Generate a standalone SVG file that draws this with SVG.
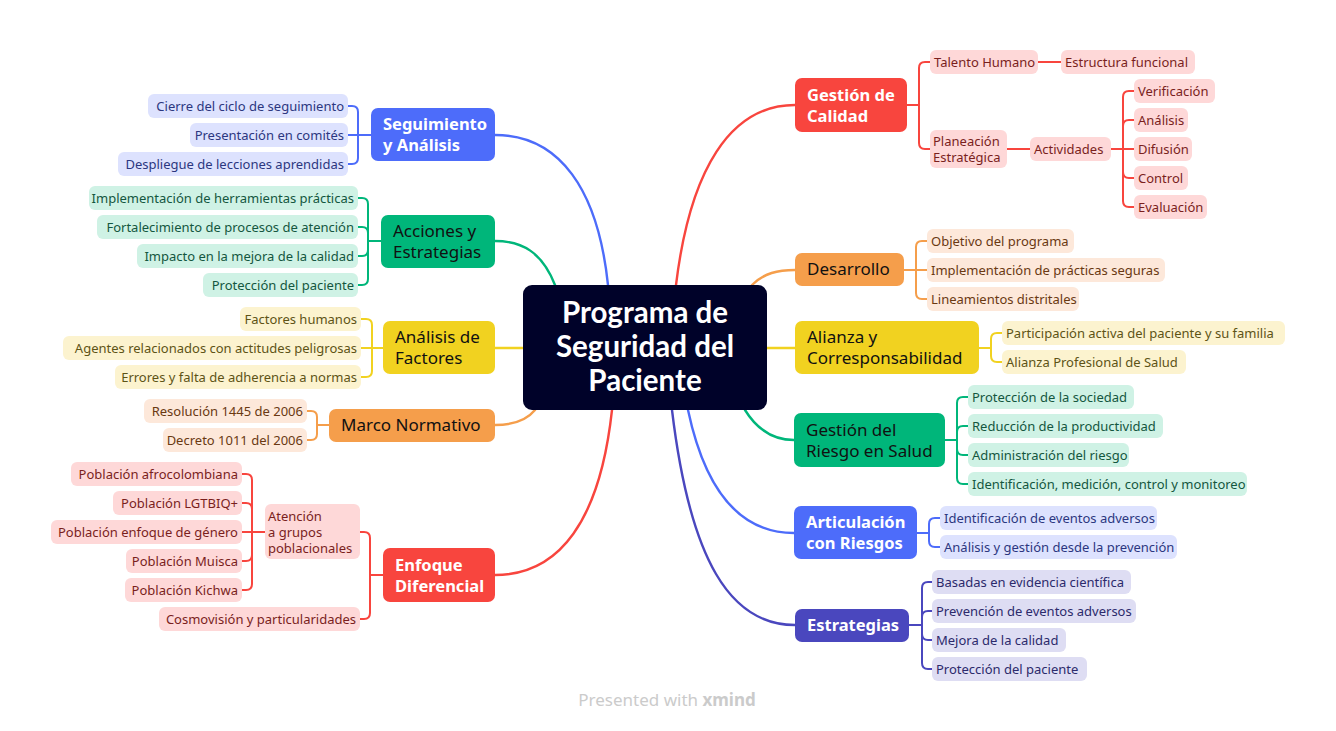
<svg xmlns="http://www.w3.org/2000/svg" width="1336" height="731" viewBox="0 0 1336 731">
<style>
text{font-family:"Noto Sans","Open Sans","Liberation Sans",sans-serif}
.sub{font-size:13px}
.main{font-size:16.5px}
.mw{fill:#fff;font-weight:700}
.mb{fill:#111;font-size:17px}
.ctr{font-family:Lato,"Noto Sans",sans-serif;font-size:29.5px;font-weight:700;fill:#fff;text-anchor:middle}
.l{text-anchor:end}
.conn path{fill:none;stroke-linecap:round;stroke-linejoin:round}
.cb{stroke:#4D6CFA}.cg{stroke:#00B67A}.cy{stroke:#F1D220}.co{stroke:#F59E4B}.cr{stroke:#F8453E}.ci{stroke:#4A47BE}
.main-c{stroke-width:2.4}
.sub-c{stroke-width:2}
.fb{fill:#4D6CFA}.fg{fill:#00B67A}.fy{fill:#F1D220}.fo{fill:#F59E4B}.fr{fill:#F8453E}.fi{fill:#4A47BE}
.pb{fill:#DDE2FE}.pg{fill:#CFF2E5}.py{fill:#FCF3CF}.po{fill:#FDE8DA}.pr{fill:#FED8D8}.pi{fill:#DEDDF3}
.tb{fill:#2C3780}.tg{fill:#14573F}.ty{fill:#5E5316}.to{fill:#6A3912}.tr{fill:#7A1F1D}.ti{fill:#2C2A6C}
</style>

<g id="connectors" class="conn">
<g class="main-c">
<path class="cb" d="M608,285 C598,190 560,135 495,135"/>
<path class="cg" d="M555,285 C542,252 522,241 495,241"/>
<path class="cy" d="M524,348 H495"/>
<path class="co" d="M535,410 C526,421 512,425 495,425"/>
<path class="cr" d="M612,410 C600,520 560,575 495,575"/>
<path class="cr" d="M676,285 C690,170 730,105 795,105"/>
<path class="co" d="M752,285 C764,273 778,270 795,270"/>
<path class="cy" d="M767,348 H795"/>
<path class="cg" d="M745,410 C758,431 774,440 794,440"/>
<path class="cb" d="M688,410 C705,490 740,533 794,533"/>
<path class="ci" d="M672,410 C690,560 730,625 795,625"/>
</g>
<g class="sub-c">
<g class="cb">
<path d="M371,135 H358 V112 Q358,106 352,106 H348"/>
<path d="M371,135 H348"/>
<path d="M371,135 H358 V158 Q358,164 352,164 H348"/>
</g>
<g class="cg">
<path d="M381,241 H368 V204 Q368,198 362,198 H358"/>
<path d="M381,241 H368 V233 Q368,227 362,227 H358"/>
<path d="M381,241 H368 V250 Q368,256 362,256 H358"/>
<path d="M381,241 H368 V279 Q368,285 362,285 H358"/>
</g>
<g class="cy">
<path d="M383,348 H372 V325 Q372,319 366,319 H361"/>
<path d="M383,348 H361"/>
<path d="M383,348 H372 V371 Q372,377 366,377 H361"/>
</g>
<g class="co">
<path d="M329,425 H317 V417 Q317,411 311,411 H307"/>
<path d="M329,425 H317 V434 Q317,440 311,440 H307"/>
</g>
<g class="cr">
<path d="M383,575 H370 V538 Q370,532 364,532 H360"/>
<path d="M383,575 H370 V613 Q370,619 364,619 H360"/>
<path d="M265,532 H252 V480 Q252,474 246,474 H242"/>
<path d="M265,532 H252 V509 Q252,503 246,503 H242"/>
<path d="M265,532 H242"/>
<path d="M265,532 H252 V555 Q252,561 246,561 H242"/>
<path d="M265,532 H252 V584 Q252,590 246,590 H242"/>
<path d="M907,105 H919 V68 Q919,62 925,62 H930"/>
<path d="M907,105 H919 V143 Q919,149 925,149 H930"/>
<path d="M1038,62 H1061"/>
<path d="M1007,149 H1030"/>
<path d="M1111,149 H1123 V97 Q1123,91 1129,91 H1134"/>
<path d="M1111,149 H1123 V126 Q1123,120 1129,120 H1134"/>
<path d="M1111,149 H1134"/>
<path d="M1111,149 H1123 V172 Q1123,178 1129,178 H1134"/>
<path d="M1111,149 H1123 V201 Q1123,207 1129,207 H1134"/>
</g>
<g class="co">
<path d="M904,270 H916 V247 Q916,241 922,241 H927"/>
<path d="M904,270 H927"/>
<path d="M904,270 H916 V293 Q916,299 922,299 H927"/>
</g>
<g class="cy">
<path d="M979,348 H991 V339 Q991,333 997,333 H1002"/>
<path d="M979,348 H991 V356 Q991,362 997,362 H1002"/>
</g>
<g class="cg">
<path d="M945,440 H957 V403 Q957,397 963,397 H968"/>
<path d="M945,440 H957 V432 Q957,426 963,426 H968"/>
<path d="M945,440 H957 V449 Q957,455 963,455 H968"/>
<path d="M945,440 H957 V478 Q957,484 963,484 H968"/>
</g>
<g class="cb">
<path d="M917,533 H929 V524 Q929,518 935,518 H940"/>
<path d="M917,533 H929 V541 Q929,547 935,547 H940"/>
</g>
<g class="ci">
<path d="M909,625 H922 V588 Q922,582 928,582 H932"/>
<path d="M909,625 H922 V617 Q922,611 928,611 H932"/>
<path d="M909,625 H922 V634 Q922,640 928,640 H932"/>
<path d="M909,625 H922 V663 Q922,669 928,669 H932"/>
</g>
</g>
</g>

<g id="center">
<rect x="523" y="285" width="244" height="125" rx="9" fill="#000229"/>
<text class="ctr" x="645" y="323">Programa de</text>
<text class="ctr" x="645" y="357">Seguridad del</text>
<text class="ctr" x="645" y="391">Paciente</text>
</g>

<g id="seguimiento">
<rect class="fb" x="371" y="108" width="124" height="53" rx="7"/>
<text class="main mw" x="383" y="130">Seguimiento</text>
<text class="main mw" x="383" y="151">y Análisis</text>
</g>
<g id="seg-1"><rect class="pb" x="148" y="94" width="200" height="24" rx="6"/><text class="sub tb l" x="344" y="110.5">Cierre del ciclo de seguimiento</text></g>
<g id="seg-2"><rect class="pb" x="190" y="123" width="158" height="24" rx="6"/><text class="sub tb l" x="344" y="139.5">Presentación en comités</text></g>
<g id="seg-3"><rect class="pb" x="118" y="152" width="230" height="24" rx="6"/><text class="sub tb l" x="344" y="168.5">Despliegue de lecciones aprendidas</text></g>

<g id="acciones">
<rect class="fg" x="381" y="215" width="114" height="53" rx="7"/>
<text class="main mb" x="393" y="237">Acciones y</text>
<text class="main mb" x="393" y="258">Estrategias</text>
</g>
<g id="acc-1"><rect class="pg" x="89" y="186" width="269" height="24" rx="6"/><text class="sub tg l" x="354" y="202.5">Implementación de herramientas prácticas</text></g>
<g id="acc-2"><rect class="pg" x="97" y="215" width="261" height="24" rx="6"/><text class="sub tg l" x="354" y="231.5">Fortalecimiento de procesos de atención</text></g>
<g id="acc-3"><rect class="pg" x="137" y="244" width="221" height="24" rx="6"/><text class="sub tg l" x="354" y="260.5">Impacto en la mejora de la calidad</text></g>
<g id="acc-4"><rect class="pg" x="203" y="273" width="155" height="24" rx="6"/><text class="sub tg l" x="354" y="289.5">Protección del paciente</text></g>

<g id="factores">
<rect class="fy" x="383" y="321" width="112" height="53" rx="7"/>
<text class="main mb" x="395" y="343">Análisis de</text>
<text class="main mb" x="395" y="364">Factores</text>
</g>
<g id="fac-1"><rect class="py" x="240" y="307" width="121" height="24" rx="6"/><text class="sub ty l" x="357" y="323.5">Factores humanos</text></g>
<g id="fac-2"><rect class="py" x="63" y="336" width="298" height="24" rx="6"/><text class="sub ty l" x="357" y="352.5">Agentes relacionados con actitudes peligrosas</text></g>
<g id="fac-3"><rect class="py" x="115" y="365" width="246" height="24" rx="6"/><text class="sub ty l" x="357" y="381.5">Errores y falta de adherencia a normas</text></g>

<g id="marco">
<rect class="fo" x="329" y="409" width="166" height="33" rx="7"/>
<text class="main mb" x="341" y="431">Marco Normativo</text>
</g>
<g id="mar-1"><rect class="po" x="144" y="399" width="163" height="24" rx="6"/><text class="sub to l" x="303" y="415.5">Resolución 1445 de 2006</text></g>
<g id="mar-2"><rect class="po" x="163" y="428" width="144" height="24" rx="6"/><text class="sub to l" x="303" y="444.5">Decreto 1011 del 2006</text></g>

<g id="enfoque">
<rect class="fr" x="383" y="548" width="112" height="54" rx="7"/>
<text class="main mw" x="395" y="571">Enfoque</text>
<text class="main mw" x="395" y="592">Diferencial</text>
</g>
<g id="enf-atencion"><rect class="pr" x="265" y="504" width="95" height="55" rx="6"/>
<text class="sub tr" x="268" y="521">Atención</text><text class="sub tr" x="268" y="537">a grupos</text><text class="sub tr" x="268" y="553">poblacionales</text></g>
<g id="enf-cosmo"><rect class="pr" x="159" y="607" width="201" height="24" rx="6"/><text class="sub tr l" x="356" y="623.5">Cosmovisión y particularidades</text></g>
<g id="at-1"><rect class="pr" x="71" y="462" width="171" height="24" rx="6"/><text class="sub tr l" x="238" y="478.5">Población afrocolombiana</text></g>
<g id="at-2"><rect class="pr" x="113" y="491" width="129" height="24" rx="6"/><text class="sub tr l" x="238" y="507.5">Población LGTBIQ+</text></g>
<g id="at-3"><rect class="pr" x="51" y="520" width="191" height="24" rx="6"/><text class="sub tr l" x="238" y="536.5">Población enfoque de género</text></g>
<g id="at-4"><rect class="pr" x="126" y="549" width="116" height="24" rx="6"/><text class="sub tr l" x="238" y="565.5">Población Muisca</text></g>
<g id="at-5"><rect class="pr" x="125" y="578" width="117" height="24" rx="6"/><text class="sub tr l" x="238" y="594.5">Población Kichwa</text></g>

<g id="calidad">
<rect class="fr" x="795" y="78" width="112" height="54" rx="7"/>
<text class="main mw" x="807" y="101">Gestión de</text>
<text class="main mw" x="807" y="122">Calidad</text>
</g>
<g id="cal-talento"><rect class="pr" x="930" y="50" width="108" height="24" rx="6"/><text class="sub tr" x="934" y="66.5">Talento Humano</text></g>
<g id="cal-estructura"><rect class="pr" x="1061" y="50" width="134" height="24" rx="6"/><text class="sub tr" x="1065" y="66.5">Estructura funcional</text></g>
<g id="cal-planeacion"><rect class="pr" x="930" y="130" width="77" height="38" rx="6"/><text class="sub tr" x="933" y="145.5">Planeación</text><text class="sub tr" x="933" y="161.5">Estratégica</text></g>
<g id="cal-actividades"><rect class="pr" x="1030" y="137" width="81" height="24" rx="6"/><text class="sub tr" x="1034" y="153.5">Actividades</text></g>
<g id="act-1"><rect class="pr" x="1134" y="79" width="81" height="24" rx="6"/><text class="sub tr" x="1138" y="95.5">Verificación</text></g>
<g id="act-2"><rect class="pr" x="1134" y="108" width="54" height="24" rx="6"/><text class="sub tr" x="1138" y="124.5">Análisis</text></g>
<g id="act-3"><rect class="pr" x="1134" y="137" width="58" height="24" rx="6"/><text class="sub tr" x="1138" y="153.5">Difusión</text></g>
<g id="act-4"><rect class="pr" x="1134" y="166" width="54" height="24" rx="6"/><text class="sub tr" x="1138" y="182.5">Control</text></g>
<g id="act-5"><rect class="pr" x="1134" y="195" width="73" height="24" rx="6"/><text class="sub tr" x="1138" y="211.5">Evaluación</text></g>

<g id="desarrollo">
<rect class="fo" x="795" y="253" width="109" height="33" rx="7"/>
<text class="main mb" x="807" y="275">Desarrollo</text>
</g>
<g id="des-1"><rect class="po" x="927" y="229" width="147" height="24" rx="6"/><text class="sub to" x="931" y="245.5">Objetivo del programa</text></g>
<g id="des-2"><rect class="po" x="927" y="258" width="238" height="24" rx="6"/><text class="sub to" x="931" y="274.5">Implementación de prácticas seguras</text></g>
<g id="des-3"><rect class="po" x="927" y="287" width="152" height="24" rx="6"/><text class="sub to" x="931" y="303.5">Lineamientos distritales</text></g>

<g id="alianza">
<rect class="fy" x="795" y="321" width="184" height="53" rx="7"/>
<text class="main mb" x="807" y="343">Alianza y</text>
<text class="main mb" x="807" y="364">Corresponsabilidad</text>
</g>
<g id="ali-1"><rect class="py" x="1002" y="321" width="283" height="24" rx="6"/><text class="sub ty" x="1006" y="337.5">Participación activa del paciente y su familia</text></g>
<g id="ali-2"><rect class="py" x="1002" y="350" width="184" height="24" rx="6"/><text class="sub ty" x="1006" y="366.5">Alianza Profesional de Salud</text></g>

<g id="riesgo">
<rect class="fg" x="794" y="413" width="151" height="54" rx="7"/>
<text class="main mb" x="806" y="436">Gestión del</text>
<text class="main mb" x="806" y="457">Riesgo en Salud</text>
</g>
<g id="rie-1"><rect class="pg" x="968" y="385" width="166" height="24" rx="6"/><text class="sub tg" x="972" y="401.5">Protección de la sociedad</text></g>
<g id="rie-2"><rect class="pg" x="968" y="414" width="195" height="24" rx="6"/><text class="sub tg" x="972" y="430.5">Reducción de la productividad</text></g>
<g id="rie-3"><rect class="pg" x="968" y="443" width="161" height="24" rx="6"/><text class="sub tg" x="972" y="459.5">Administración del riesgo</text></g>
<g id="rie-4"><rect class="pg" x="968" y="472" width="279" height="24" rx="6"/><text class="sub tg" x="972" y="488.5">Identificación, medición, control y monitoreo</text></g>

<g id="articulacion">
<rect class="fb" x="794" y="506" width="123" height="53" rx="7"/>
<text class="main mw" x="806" y="528">Articulación</text>
<text class="main mw" x="806" y="549">con Riesgos</text>
</g>
<g id="art-1"><rect class="pb" x="940" y="506" width="217" height="24" rx="6"/><text class="sub tb" x="944" y="522.5">Identificación de eventos adversos</text></g>
<g id="art-2"><rect class="pb" x="940" y="535" width="237" height="24" rx="6"/><text class="sub tb" x="944" y="551.5">Análisis y gestión desde la prevención</text></g>

<g id="estrategias">
<rect class="fi" x="795" y="609" width="114" height="33" rx="7"/>
<text class="main mw" x="807" y="631">Estrategias</text>
</g>
<g id="est-1"><rect class="pi" x="932" y="570" width="199" height="24" rx="6"/><text class="sub ti" x="936" y="586.5">Basadas en evidencia científica</text></g>
<g id="est-2"><rect class="pi" x="932" y="599" width="204" height="24" rx="6"/><text class="sub ti" x="936" y="615.5">Prevención de eventos adversos</text></g>
<g id="est-3"><rect class="pi" x="932" y="628" width="134" height="24" rx="6"/><text class="sub ti" x="936" y="644.5">Mejora de la calidad</text></g>
<g id="est-4"><rect class="pi" x="932" y="657" width="155" height="24" rx="6"/><text class="sub ti" x="936" y="673.5">Protección del paciente</text></g>

<g id="watermark">
<text x="667" y="706" text-anchor="middle" font-size="17" fill="#CBCBCB">Presented with <tspan font-weight="700">xmind</tspan></text>
</g>
</svg>
